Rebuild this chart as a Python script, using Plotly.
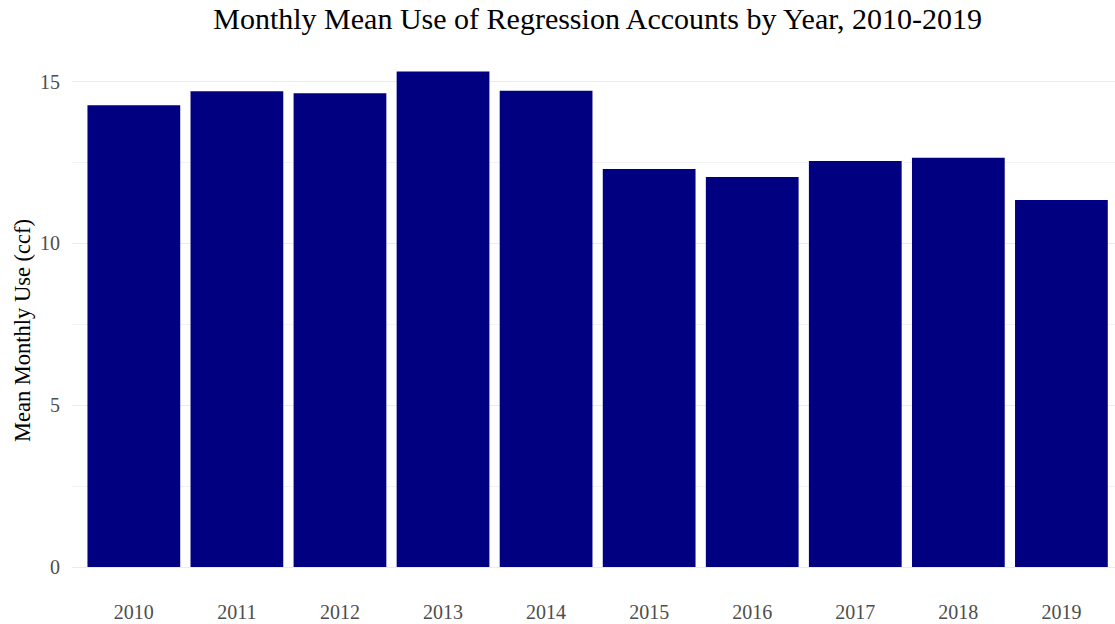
import plotly.graph_objects as go

years = ["2010", "2011", "2012", "2013", "2014", "2015", "2016", "2017", "2018", "2019"]
mean_use = [14.27, 14.70, 14.64, 15.31, 14.72, 12.30, 12.05, 12.55, 12.65, 11.34]

font_family = "Liberation Serif, Times New Roman, serif"

fig = go.Figure(
    go.Bar(x=years, y=mean_use, marker=dict(color="#000080", line=dict(width=0)), width=0.9)
)

fig.update_layout(
    width=1115, height=624,
    margin=dict(l=72, r=0, t=47, b=32),
    plot_bgcolor="white", paper_bgcolor="white",
    font=dict(family=font_family),
    title=dict(text="Monthly Mean Use of Regression Accounts by Year, 2010-2019",
               x=0.536, xanchor="center", y=0.971, yanchor="middle",
               font=dict(size=30, color="black", family=font_family)),
    showlegend=False,
    bargap=0.1,
    annotations=[dict(text="Mean Monthly Use (ccf)", textangle=-90, showarrow=False,
                      xref="paper", yref="paper", x=-50 / 1043, y=(592 - 331) / 545,
                      xanchor="center", yanchor="middle",
                      font=dict(size=22.5, color="black", family=font_family))],
)

fig.update_xaxes(
    type="category", range=[-0.6, 9.52], showgrid=False, zeroline=False,
    showline=False, ticks="", ticklabelstandoff=6,
    tickfont=dict(size=20, color="#4d4d4d", family=font_family),
)
fig.update_yaxes(
    range=[-0.77, 16.07], tickvals=[0, 5, 10, 15], ticktext=["0", "5", "10", "15"],
    showgrid=True, gridcolor="#ebebeb", gridwidth=1.2,
    minor=dict(tickvals=[2.5, 7.5, 12.5], showgrid=True, gridcolor="#f3f3f3", gridwidth=0.8),
    zeroline=False, showline=False, ticks="", ticklabelstandoff=11,
    tickfont=dict(size=20, color="#4d4d4d", family=font_family),
)

fig.write_html("out.html", config={"displayModeBar": False},
               post_script="document.body.style.margin='0';document.body.style.overflow='hidden';")
